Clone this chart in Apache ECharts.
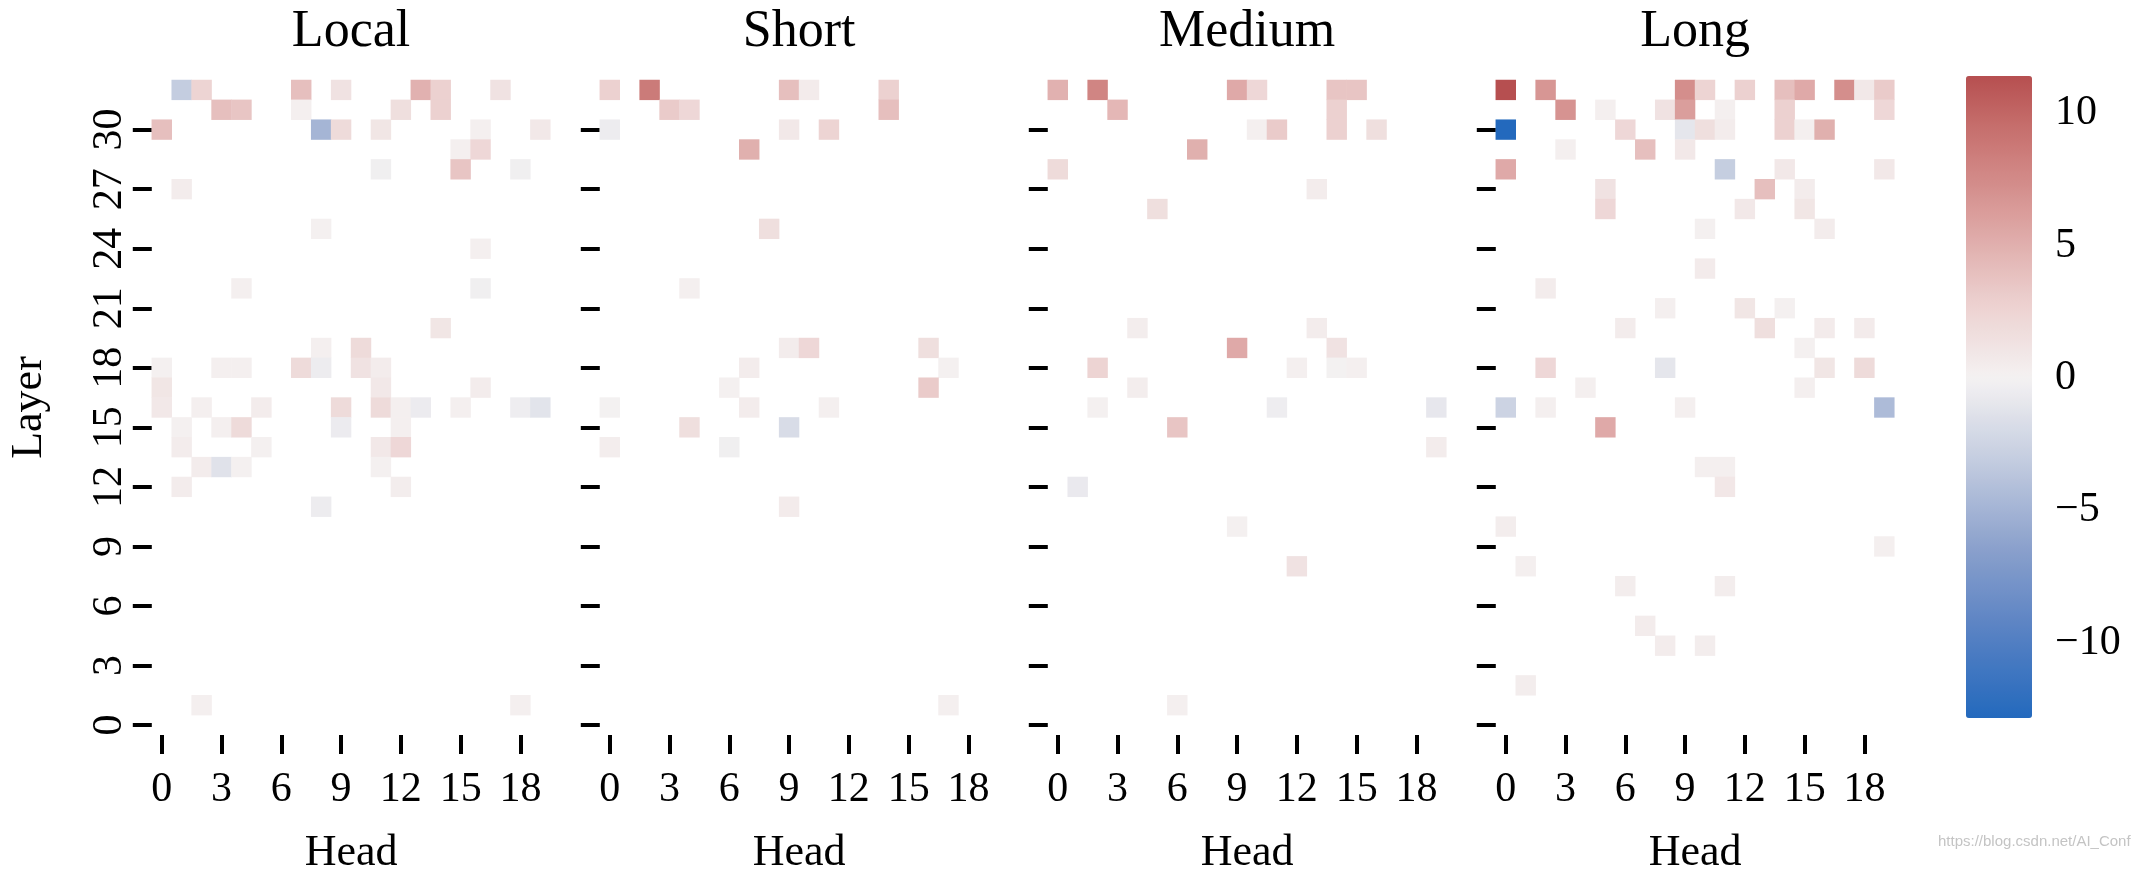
<!DOCTYPE html>
<html>
<head>
<meta charset="utf-8">
<script src="https://cdn.jsdelivr.net/npm/echarts@6/dist/echarts.min.js"></script>
<style>
html,body{margin:0;padding:0;background:#fff;}
#chart{width:2156px;height:880px;}
</style>
</head>
<body>
<div id="chart"></div>
<script>
// ---------------- data ----------------
const panelTitles = ['Local', 'Short', 'Medium', 'Long'];
const heads = ['0','1','2','3','4','5','6','7','8','9','10','11','12','13','14','15','16','17','18','19'];
const layers = ['0','1','2','3','4','5','6','7','8','9','10','11','12','13','14','15','16','17','18','19','20','21','22','23','24','25','26','27','28','29','30','31','32'];
const colorbarTicks = [-10, -5, 0, 5, 10];
const colorMin = -12.84;
const colorMax = 11.4;

// [head, layer, value]  (empty cells are masked)
const localCells = [
  [1,32,-3.1],[2,32,2.5],[7,32,4.0],[9,32,1.3],[13,32,4.9],[14,32,2.8],[17,32,1.3],
  [3,31,4.0],[4,31,3.6],[7,31,0.3],[12,31,1.6],[14,31,2.8],
  [0,30,4.0],[8,30,-4.9],[9,30,1.9],[11,30,1.0],[16,30,0.3],[19,30,0.8],
  [15,29,0.3],[16,29,2.2],
  [11,28,-0.3],[15,28,3.6],[18,28,-0.3],
  [1,27,0.5],
  [8,25,0.2],
  [16,24,0.3],
  [4,22,0.3],[16,22,-0.3],
  [14,20,1.0],
  [8,19,0.3],[10,19,1.9],
  [0,18,0.2],[3,18,0.3],[4,18,0.3],[7,18,1.9],[8,18,-0.5],[10,18,1.3],[11,18,0.5],
  [0,17,1.0],[11,17,0.8],[16,17,0.5],
  [0,16,0.8],[2,16,0.3],[5,16,0.5],[9,16,1.9],[11,16,1.9],[12,16,0.3],[13,16,-0.6],[15,16,0.3],[18,16,-0.4],[19,16,-1.2],
  [1,15,0.2],[3,15,0.3],[4,15,1.9],[9,15,-0.6],[12,15,0.3],
  [1,14,0.5],[5,14,0.2],[11,14,0.8],[12,14,2.2],
  [2,13,0.5],[3,13,-1.3],[4,13,0.2],[11,13,0.2],
  [1,12,0.5],[12,12,0.4],
  [8,11,-0.5],
  [2,1,0.3],[18,1,0.3]
];
const shortCells = [
  [0,32,2.8],[2,32,8.6],[9,32,4.0],[10,32,0.6],[14,32,2.8],
  [3,31,3.2],[4,31,2.2],[14,31,4.0],
  [0,30,-0.5],[9,30,0.8],[11,30,2.5],
  [7,29,5.0],
  [8,25,1.6],
  [4,22,0.3],
  [9,19,0.5],[10,19,2.2],[16,19,1.6],
  [7,18,0.5],[17,18,0.2],
  [6,17,0.2],[16,17,3.2],
  [0,16,-0.1],[7,16,0.5],[11,16,0.3],
  [4,15,1.6],[9,15,-1.8],
  [0,14,0.4],[6,14,-0.3],
  [9,11,0.6],
  [17,1,0.3]
];
const mediumCells = [
  [0,32,4.9],[2,32,7.9],[9,32,5.4],[10,32,2.2],[14,32,3.6],[15,32,3.6],
  [3,31,4.5],[14,31,2.8],
  [10,30,0.3],[11,30,3.2],[14,30,2.8],[16,30,1.6],
  [7,29,5.0],
  [0,28,1.9],
  [13,27,0.5],
  [5,26,1.6],
  [4,20,0.4],[13,20,0.5],
  [9,19,5.4],[14,19,1.3],
  [2,18,2.5],[12,18,0.3],[14,18,-0.1],[15,18,0.3],
  [4,17,0.4],
  [2,16,0.05],[11,16,-0.4],[19,16,-0.9],
  [6,15,3.6],
  [19,14,0.5],
  [1,12,-0.7],
  [9,10,0.05],
  [12,8,1.3],
  [6,1,0.3]
];
const longCells = [
  [0,32,11.4],[2,32,6.7],[9,32,7.2],[10,32,2.5],[12,32,2.8],[14,32,4.0],[15,32,5.4],[17,32,7.2],[18,32,0.8],[19,32,3.2],
  [3,31,6.9],[5,31,0.3],[8,31,1.3],[9,31,6.2],[11,31,0.3],[14,31,2.8],[19,31,2.2],
  [0,30,-12.84],[6,30,2.2],[9,30,-1.0],[10,30,1.6],[11,30,0.5],[14,30,2.8],[15,30,0.3],[16,30,5.0],
  [3,29,0.3],[7,29,4.0],[9,29,0.8],
  [0,28,5.4],[11,28,-3.0],[14,28,0.8],[19,28,0.8],
  [5,27,1.3],[13,27,4.0],[15,27,0.5],
  [5,26,2.2],[12,26,0.8],[15,26,1.0],
  [10,25,0.2],[16,25,0.5],
  [10,23,0.6],
  [2,22,0.5],
  [8,21,0.3],[12,21,1.0],[14,21,0.1],
  [6,20,0.5],[13,20,1.6],[16,20,0.6],[18,20,0.6],
  [15,19,0.05],
  [2,18,2.2],[8,18,-1.0],[16,18,1.0],[18,18,1.9],
  [4,17,0.3],[15,17,0.3],
  [0,16,-2.6],[2,16,0.3],[9,16,0.3],[19,16,-4.4],
  [5,15,5.4],
  [10,13,0.3],[11,13,0.3],
  [11,12,0.9],
  [0,10,0.4],
  [19,9,0.3],
  [1,8,0.3],
  [6,7,0.4],[11,7,0.4],
  [7,5,0.5],
  [8,4,0.5],[10,4,0.4],
  [1,2,0.4]
];
const panelCells = [localCells, shortCells, mediumCells, longCells];

// ---------------- style ----------------
const FONT = "'Liberation Serif','DejaVu Serif',serif";
const gridLefts = [151.8, 599.8, 1047.8, 1495.8];
const gridTop = 80, gridW = 398.5, gridH = 657.5;
const cbar = {left: 1966, top: 76, width: 66, height: 642};

// seaborn "vlag"-like diverging map, centred at 0
const vlagStops = [[0,'#2369bd'],[0.12,'#5580c3'],[0.25,'#8ba1cc'],[0.38,'#c4cde0'],[0.5,'#f5f2f2'],[0.62,'#ebcdcc'],[0.75,'#d99a98'],[0.88,'#c46a68'],[1,'#a9373b']];
function hex2rgb(h){return [parseInt(h.slice(1,3),16),parseInt(h.slice(3,5),16),parseInt(h.slice(5,7),16)];}
function vlag(t){
  t = Math.max(0, Math.min(1, t));
  for (let i = 0; i < vlagStops.length - 1; i++) {
    const [t0,c0] = vlagStops[i], [t1,c1] = vlagStops[i+1];
    if (t <= t1) {
      const f = (t - t0) / (t1 - t0), a = hex2rgb(c0), b = hex2rgb(c1);
      return 'rgb(' + a.map((v,k)=>Math.round(v + (b[k]-v)*f)).join(',') + ')';
    }
  }
  return vlagStops[vlagStops.length-1][1];
}
const vr = Math.max(Math.abs(colorMin), Math.abs(colorMax));
const cmapColors = [];
for (let k = 0; k <= 80; k++) {
  const v = colorMin + (colorMax - colorMin) * k / 80;
  cmapColors.push(vlag(0.5 + v / (2 * vr)));
}

const tickStyle = {show: true, alignWithLabel: true, interval: 2, length: 19, lineStyle: {color: '#000', width: 4}};
const grids = [], xAxes = [], yAxes = [], series = [], graphics = [];
for (let i = 0; i < 4; i++) {
  grids.push({left: gridLefts[i], top: gridTop, width: gridW, height: gridH, containLabel: false});
  xAxes.push({
    type: 'category', gridIndex: i, data: heads,
    axisLine: {show: false}, splitLine: {show: false}, axisTick: tickStyle,
    axisLabel: {interval: 2, fontSize: 42, margin: 34, color: '#000', fontFamily: FONT},
    name: 'Head', nameLocation: 'middle', nameGap: 96,
    nameTextStyle: {fontSize: 44, color: '#000', fontFamily: FONT}
  });
  yAxes.push({
    type: 'category', gridIndex: i, data: layers,
    axisLine: {show: false}, splitLine: {show: false}, axisTick: tickStyle,
    axisLabel: {show: i === 0, interval: 2, rotate: 90, fontSize: 42, margin: 21, color: '#000', fontFamily: FONT},
    name: i === 0 ? 'Layer' : '', nameLocation: 'middle', nameGap: 100, nameRotate: 90,
    nameTextStyle: {fontSize: 44, color: '#000', fontFamily: FONT}
  });
  series.push({
    type: 'heatmap', xAxisIndex: i, yAxisIndex: i, data: panelCells[i],
    itemStyle: {borderWidth: 0}, emphasis: {disabled: true}, progressive: 0, silent: true
  });
  graphics.push({
    type: 'text', x: gridLefts[i] + gridW / 2, y: 32,
    style: {text: panelTitles[i], fill: '#000', font: '52px ' + FONT, textAlign: 'center', textVerticalAlign: 'middle'}
  });
}
// colorbar axis
grids.push({left: cbar.left, top: cbar.top, width: cbar.width, height: cbar.height, containLabel: false});
xAxes.push({type: 'value', gridIndex: 4, show: false, min: 0, max: 1});
yAxes.push({
  type: 'value', gridIndex: 4, position: 'right', min: colorMin, max: colorMax,
  axisLine: {show: false}, splitLine: {show: false},
  axisTick: {show: true, customValues: colorbarTicks, length: 18, lineStyle: {color: '#000', width: 4}},
  axisLabel: {customValues: colorbarTicks, margin: 23, fontSize: 42, color: '#000', fontFamily: FONT,
    formatter: v => (v < 0 ? '\u2212' + Math.abs(v) : String(v))}
});
series.push({type: 'scatter', xAxisIndex: 4, yAxisIndex: 4, data: [], silent: true});

graphics.push({
  type: 'text', x: 1938, y: 842,
  style: {text: 'https://blog.csdn.net/AI_Conf', fill: '#c4c4c4', font: "15px 'Liberation Sans',sans-serif", textAlign: 'left', textVerticalAlign: 'middle'}
});

const chart = echarts.init(document.getElementById('chart'), null, {renderer: 'canvas'});
chart.setOption({
  animation: false,
  backgroundColor: '#fff',
  grid: grids, xAxis: xAxes, yAxis: yAxes, series: series,
  visualMap: {
    type: 'continuous', min: colorMin, max: colorMax, seriesIndex: [0,1,2,3],
    calculable: false, hoverLink: false, orient: 'vertical',
    left: cbar.left, top: cbar.top, itemWidth: cbar.width, itemHeight: cbar.height,
    padding: 0, inRange: {color: cmapColors}, text: null, showLabel: false
  },
  graphic: graphics
});
</script>
</body>
</html>
